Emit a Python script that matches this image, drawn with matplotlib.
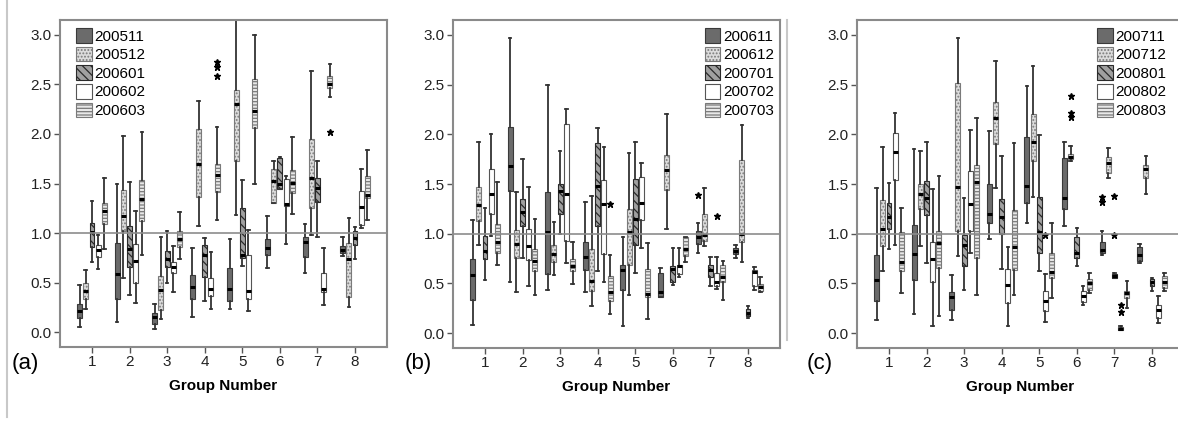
"""
Boxplots par groupe (3 periodes) - recreation de la figure (a)/(b)/(c)
"""
import numpy as np
import matplotlib.pyplot as plt
from matplotlib.patches import Patch
from matplotlib.lines import Line2D

plt.rcParams['font.family'] = ['Liberation Sans', 'DejaVu Sans']
plt.rcParams['hatch.linewidth'] = 0.9

GROUPS = [1, 2, 3, 4, 5, 6, 7, 8]
A_LABELS = ['200511', '200512', '200601', '200602', '200603']
B_LABELS = ['200611', '200612', '200701', '200702', '200703']
C_LABELS = ['200711', '200712', '200801', '200802', '200803']

# lignes = groupe 1..8, colonnes = les cinq mois
A_LO = [[0.05, 0.23, 0.71, 0.64, 0.84],
        [0.10, 0.55, 0.37, 0.29, 0.78],
        [0.03, 0.13, 0.50, 0.41, 0.74],
        [0.15, 1.07, 0.31, 0.23, 1.13],
        [0.23, 1.18, 0.67, 0.21, 1.50],
        [0.65, 1.30, 1.44, 0.89, 1.19],
        [0.60, 0.98, 0.96, 0.27, 2.37],
        [0.77, 0.25, 0.74, 1.05, 1.13]]
A_Q1 = [[0.14, 0.33, 0.86, 0.76, 1.09],
        [0.33, 1.02, 0.66, 0.50, 1.12],
        [0.08, 0.22, 0.66, 0.60, 0.86],
        [0.33, 1.36, 0.56, 0.36, 1.41],
        [0.31, 1.73, 0.75, 0.33, 2.06],
        [0.78, 1.30, 1.44, 1.27, 1.40],
        [0.76, 1.25, 1.31, 0.41, 2.46],
        [0.80, 0.35, 0.88, 1.08, 1.35]]
A_MED = [[0.21, 0.42, 1.01, 0.83, 1.22],
         [0.59, 1.17, 0.84, 0.72, 1.34],
         [0.15, 0.43, 0.74, 0.66, 0.94],
         [0.46, 1.70, 0.78, 0.44, 1.59],
         [0.44, 2.30, 0.78, 0.42, 2.23],
         [0.85, 1.53, 1.50, 1.29, 1.51],
         [0.91, 1.56, 1.45, 0.44, 2.50],
         [0.83, 0.74, 0.95, 1.26, 1.38]]
A_Q3 = [[0.28, 0.50, 1.10, 0.88, 1.30],
        [0.90, 1.43, 1.07, 0.89, 1.54],
        [0.19, 0.57, 0.82, 0.71, 1.02],
        [0.58, 2.05, 0.88, 0.55, 1.70],
        [0.65, 2.44, 1.25, 0.78, 2.55],
        [0.94, 1.65, 1.76, 1.55, 1.64],
        [0.96, 1.95, 1.56, 0.60, 2.58],
        [0.87, 0.90, 1.02, 1.42, 1.58]]
A_HI = [[0.48, 0.63, 1.32, 0.98, 1.56],
        [1.49, 1.98, 1.52, 1.22, 2.02],
        [0.28, 0.96, 1.02, 0.87, 1.21],
        [0.85, 2.33, 0.95, 0.81, 2.07],
        [0.94, 3.30, 1.54, 1.03, 3.00],
        [1.17, 1.73, 1.77, 1.58, 1.97],
        [1.09, 2.64, 1.73, 0.85, 2.71],
        [0.96, 1.15, 1.06, 1.65, 1.84]]
A_FLIERS = {(4, 5): [2.58, 2.68, 2.73], (7, 5): [2.02]}

B_LO = [[0.08, 0.89, 0.53, 0.98, 0.69],
        [0.51, 0.41, 0.76, 0.47, 0.38],
        [0.43, 0.58, 1.00, 0.71, 0.49],
        [0.41, 0.27, 0.62, 0.51, 0.19],
        [0.07, 0.38, 0.60, 0.86, 0.14],
        [0.36, 1.05, 0.48, 0.56, 0.72],
        [0.81, 0.88, 0.47, 0.44, 0.33],
        [0.76, 0.72, 0.15, 0.43, 0.41]]
B_Q1 = [[0.33, 1.13, 0.75, 1.20, 0.81],
        [1.43, 0.76, 1.08, 0.74, 0.62],
        [0.59, 0.72, 1.20, 0.93, 0.62],
        [0.63, 0.42, 1.08, 0.80, 0.32],
        [0.43, 0.69, 0.89, 1.14, 0.36],
        [0.36, 1.44, 0.51, 0.59, 0.78],
        [0.90, 0.93, 0.56, 0.47, 0.51],
        [0.80, 0.92, 0.17, 0.47, 0.42]]
B_MED = [[0.58, 1.29, 0.83, 1.40, 0.92],
         [1.68, 0.90, 1.22, 0.88, 0.73],
         [1.02, 0.80, 1.43, 1.40, 0.68],
         [0.77, 0.52, 1.48, 1.30, 0.41],
         [0.63, 1.02, 1.15, 1.31, 0.39],
         [0.41, 1.64, 0.64, 0.68, 0.85],
         [0.97, 0.99, 0.63, 0.51, 0.56],
         [0.83, 1.00, 0.20, 0.61, 0.46]]
B_Q3 = [[0.75, 1.47, 0.98, 1.65, 1.10],
        [2.07, 1.04, 1.35, 1.05, 0.85],
        [1.42, 0.89, 1.50, 2.10, 0.75],
        [0.92, 0.85, 1.91, 1.54, 0.57],
        [0.69, 1.25, 1.55, 1.57, 0.64],
        [0.60, 1.79, 0.68, 0.69, 0.97],
        [1.03, 1.20, 0.69, 0.60, 0.69],
        [0.86, 1.74, 0.24, 0.63, 0.49]]
B_HI = [[1.14, 1.92, 1.26, 2.00, 1.52],
        [2.97, 1.42, 1.75, 1.47, 1.15],
        [2.50, 1.12, 1.83, 2.25, 0.92],
        [1.32, 1.38, 2.06, 1.87, 0.79],
        [0.97, 1.81, 1.92, 1.71, 0.91],
        [0.65, 2.20, 0.86, 0.86, 0.97],
        [1.11, 1.46, 0.77, 0.77, 0.73],
        [0.89, 2.09, 0.27, 0.66, 0.56]]
B_FLIERS = {(4, 5): [1.30], (7, 1): [1.39], (7, 4): [1.18]}

C_LO = [[0.13, 0.62, 0.85, 0.89, 0.40],
        [0.19, 0.88, 0.71, 0.07, 0.17],
        [0.13, 0.78, 0.43, 0.81, 0.38],
        [0.95, 1.46, 0.64, 0.07, 0.38],
        [1.11, 1.37, 0.62, 0.11, 0.35],
        [1.08, 1.73, 0.68, 0.28, 0.40],
        [0.79, 1.56, 0.55, 0.03, 0.25],
        [0.71, 1.40, 0.42, 0.10, 0.42]]
C_Q1 = [[0.32, 0.88, 1.05, 1.54, 0.62],
        [0.53, 1.25, 1.19, 0.51, 0.65],
        [0.23, 1.03, 0.67, 1.03, 0.76],
        [1.11, 1.90, 1.00, 0.30, 0.63],
        [1.31, 1.73, 0.81, 0.22, 0.55],
        [1.25, 1.75, 0.76, 0.31, 0.43],
        [0.81, 1.61, 0.55, 0.03, 0.35],
        [0.73, 1.56, 0.47, 0.15, 0.45]]
C_MED = [[0.53, 1.05, 1.17, 1.82, 0.72],
         [0.80, 1.40, 1.36, 0.75, 0.91],
         [0.36, 1.47, 0.89, 1.30, 1.52],
         [1.20, 2.16, 1.17, 0.48, 0.87],
         [1.48, 1.92, 1.02, 0.32, 0.61],
         [1.36, 1.77, 0.81, 0.37, 0.50],
         [0.84, 1.71, 0.57, 0.04, 0.40],
         [0.79, 1.65, 0.51, 0.23, 0.51]]
C_Q3 = [[0.79, 1.34, 1.31, 2.01, 1.02],
        [1.09, 1.50, 1.53, 0.92, 1.03],
        [0.41, 2.52, 0.99, 1.63, 1.69],
        [1.50, 2.32, 1.35, 0.64, 1.24],
        [1.97, 2.20, 1.37, 0.42, 0.81],
        [1.76, 1.80, 0.97, 0.42, 0.54],
        [0.92, 1.77, 0.59, 0.06, 0.42],
        [0.87, 1.69, 0.54, 0.28, 0.57]]
C_HI = [[1.46, 1.87, 1.51, 2.21, 1.26],
        [1.85, 1.83, 1.92, 1.45, 1.58],
        [0.58, 2.97, 1.36, 2.04, 2.16],
        [2.03, 2.74, 1.78, 0.87, 1.91],
        [2.49, 2.69, 1.99, 0.59, 1.11],
        [1.92, 1.88, 1.06, 0.47, 0.60],
        [1.03, 1.86, 0.60, 0.07, 0.52],
        [0.90, 1.78, 0.55, 0.37, 0.60]]
C_FLIERS = {(5, 4): [0.99], (6, 2): [2.17, 2.21, 2.39], (7, 1): [1.32, 1.37],
            (7, 3): [0.99, 1.38], (7, 4): [0.21, 0.28]}

# styles des cinq series (gris fonce, pointille, hachure, blanc, rayures)
STYLES = [
    dict(facecolor='#6b6b6b', edgecolor='#3a3a3a', hatch=None),
    dict(facecolor='#dcdcdc', edgecolor='#7a7a7a', hatch='.....'),
    dict(facecolor='#a0a0a0', edgecolor='#2a2a2a', hatch='\\\\\\\\'),
    dict(facecolor='white', edgecolor='#555555', hatch=None),
    dict(facecolor='#e8e8e8', edgecolor='#7a7a7a', hatch='-----'),
]


def draw_panel(ax, lo, q1, med, q3, hi, fliers, labels, leg_x):
    """Trace les 8 groupes x 5 series d'un panneau"""
    offset = 0.165
    for s in range(5):
        stats = []
        for g in range(8):
            stats.append(dict(whislo=lo[g][s], q1=q1[g][s], med=med[g][s],
                              q3=q3[g][s], whishi=hi[g][s],
                              fliers=fliers.get((g + 1, s + 1), [])))
        pos = [x + (s - 2) * offset for x in GROUPS]
        ax.bxp(stats, positions=pos, widths=0.13, capwidths=0.07,
               patch_artist=True, showfliers=True, manage_ticks=False,
               boxprops=dict(linewidth=0.8, **STYLES[s]),
               medianprops=dict(color='black', linewidth=2.2),
               whiskerprops=dict(color='#333333', linewidth=1.3),
               capprops=dict(color='#333333', linewidth=1.3),
               flierprops=dict(marker='*', markerfacecolor='black',
                               markeredgecolor='black', markersize=4.5,
                               linestyle='none'))

    ax.axhline(1.0, color='#8c8c8c', linewidth=1.2, zorder=3)
    ax.set_xlim(0.15, 8.85)
    ax.set_ylim(-0.15, 3.15)
    ax.set_xticks(GROUPS)
    ax.set_xticklabels([str(g) for g in GROUPS])
    ax.set_yticks(np.arange(0, 3.01, 0.5))
    ax.set_yticklabels(['%.1f' % v for v in np.arange(0, 3.01, 0.5)])
    ax.tick_params(axis='both', direction='out', length=4, width=1,
                   color='#555555', labelsize=11, pad=2, labelcolor='#222222')
    for sp in ax.spines.values():
        sp.set_color('#8a8a8a')
        sp.set_linewidth(1.5)
    ax.set_xlabel('Group Number', fontsize=11, fontweight='bold', labelpad=7)

    handles = [Patch(linewidth=0.8, **st) for st in STYLES]
    ax.legend(handles, labels, loc='upper left', bbox_to_anchor=(leg_x, 0.975),
              frameon=False, fontsize=11, handlelength=1.0, handleheight=1.1,
              handletextpad=0.2, labelspacing=0.2, borderpad=0, borderaxespad=0)


fig = plt.figure(figsize=(11.78, 4.21), dpi=100)
W, H = 1178.0, 421.0
ax_a = fig.add_axes([60 / W, 74 / H, 327 / W, 327 / H])
ax_b = fig.add_axes([453 / W, 73 / H, 327 / W, 328 / H])
ax_c = fig.add_axes([857 / W, 73 / H, 327 / W, 328 / H])

draw_panel(ax_a, A_LO, A_Q1, A_MED, A_Q3, A_HI, A_FLIERS, A_LABELS, 0.05)
draw_panel(ax_b, B_LO, B_Q1, B_MED, B_Q3, B_HI, B_FLIERS, B_LABELS, 0.77)
draw_panel(ax_c, C_LO, C_Q1, C_MED, C_Q3, C_HI, C_FLIERS, C_LABELS, 0.735)

fig.text(12 / W, 1 - 363 / H, '(a)', fontsize=16, va='center')
fig.text(405 / W, 1 - 363 / H, '(b)', fontsize=16, va='center')
fig.text(807 / W, 1 - 363 / H, '(c)', fontsize=16, va='center')

# traits verticaux du document d'origine
fig.add_artist(Line2D([7 / W, 7 / W], [0.01, 1.0], color='#c8c8c8', linewidth=1.5))
fig.add_artist(Line2D([787 / W, 787 / W], [1 - 340 / H, 1 - 20 / H],
                      color='#c8c8c8', linewidth=1.5))

fig.savefig('out.png', dpi=100)
